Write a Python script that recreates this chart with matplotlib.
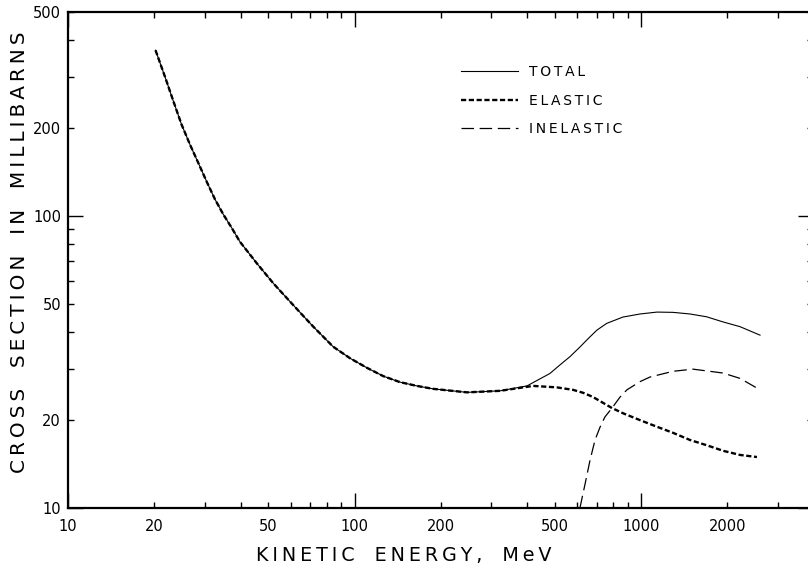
import matplotlib
matplotlib.use("Agg")
import matplotlib.pyplot as plt
from matplotlib.ticker import FixedLocator, FuncFormatter

# ---------------------------------------------------------------- data --
# kinetic energy (MeV) and cross section (mb)
low_e = [20.2, 21.8, 23.3, 24.9, 26.7, 28.5, 30.5, 32.6, 34.8, 37.3, 39.8,
         45.6, 52.1, 59.6, 64.5, 71.8, 84.2, 96.4, 110.6, 126, 144, 165, 188,
         247, 322]
low_mb = [370, 300, 248, 206, 175, 152, 131, 114, 101.5, 91, 81.7, 68.9,
          58.8, 50.9, 46.8, 41.8, 35.7, 32.6, 30.2, 28.3, 27.0, 26.2, 25.6,
          24.9, 25.2]

total_e = low_e + [400, 444, 481, 521, 565, 612, 655, 702, 759, 865, 992,
                   1137, 1293, 1483, 1693, 1933, 2216, 2603]
total_mb = low_mb + [26.2, 27.7, 28.9, 30.9, 33.0, 35.6, 38.1, 40.7, 42.9,
                     45.1, 46.2, 46.9, 46.8, 46.2, 45.2, 43.4, 41.8, 39.1]

elastic_e = low_e + [420, 508, 579, 629, 680, 792, 867, 992, 1134, 1293,
                     1483, 1698, 1937, 2216, 2540]
elastic_mb = low_mb + [26.2, 25.9, 25.4, 24.8, 24.0, 22.0, 21.1, 20.0, 19.0,
                       18.1, 17.1, 16.4, 15.7, 15.2, 14.95]

inelastic_e = [612, 638, 664, 691, 719, 748, 792, 845, 893, 992, 1075, 1293,
               1519, 1933, 2216, 2603]
inelastic_mb = [10.0, 12.1, 14.6, 17.1, 18.9, 20.5, 22.0, 24.0, 25.4, 27.1,
                28.1, 29.4, 29.9, 29.0, 27.8, 25.4]

x_labels = [10, 20, 50, 100, 200, 500, 1000, 2000]
y_labels = [10, 20, 50, 100, 200, 500]
series_names = ["TOTAL", "ELASTIC", "INELASTIC"]


def spaced(text, gap="\u2009"):
    """Letter-spaced caption in the style of the old hand lettering."""
    words = [gap.join(w) for w in text.split(" ")]
    return (gap + " " + gap + " ").join(words)


def tick_fmt(allowed):
    return FuncFormatter(lambda v, _: f"{int(round(v))}"
                         if any(abs(v - a) < 1e-6 * a for a in allowed) else "")


# ---------------------------------------------------------------- plot --
plt.rcParams["font.family"] = ["DejaVu Sans"]
fig = plt.figure(figsize=(8.08, 5.73), dpi=100)
ax = fig.add_axes([0.0842, 0.1134, 0.9226, 0.8656])

ax.plot(total_e, total_mb, color="black", lw=0.8, label=spaced(series_names[0]))
ax.plot(elastic_e, elastic_mb, color="black", lw=1.7, dashes=(2.2, 1.1),
        label=spaced(series_names[1]))
ax.plot(inelastic_e, inelastic_mb, color="black", lw=0.9, dashes=(10, 4.5),
        label=spaced(series_names[2]))

ax.set_xscale("log")
ax.set_yscale("log")
ax.set_xlim(10, 4000)
ax.set_ylim(10, 500)

for axis, labels in ((ax.xaxis, x_labels), (ax.yaxis, y_labels)):
    axis.set_major_formatter(tick_fmt(labels))
    axis.set_minor_formatter(tick_fmt(labels))
ax.yaxis.set_major_locator(FixedLocator([10, 100]))

ax.tick_params(which="both", direction="in", top=True, right=True,
               labelsize=10.5, width=1.0)
ax.tick_params(which="major", length=11)
ax.tick_params(which="minor", length=4.5)
ax.tick_params(axis="x", which="both", pad=8)
ax.tick_params(axis="y", which="both", pad=5)
for s in ax.spines.values():
    s.set_linewidth(1.6)

fig.text(0.5, 0.031, spaced("KINETIC ENERGY, MeV"), ha="center", va="center",
         fontsize=13.8)
fig.text(0.024, 0.56, spaced("CROSS SECTION IN MILLIBARNS"), rotation=90,
         ha="center", va="center", fontsize=14.4)

ax.legend(loc="upper left", bbox_to_anchor=(0.5275, 0.893), frameon=False,
          fontsize=10, handlelength=4.1, handletextpad=0.8, labelspacing=1.05,
          borderpad=0, borderaxespad=0)

fig.savefig("out.png", dpi=100)
